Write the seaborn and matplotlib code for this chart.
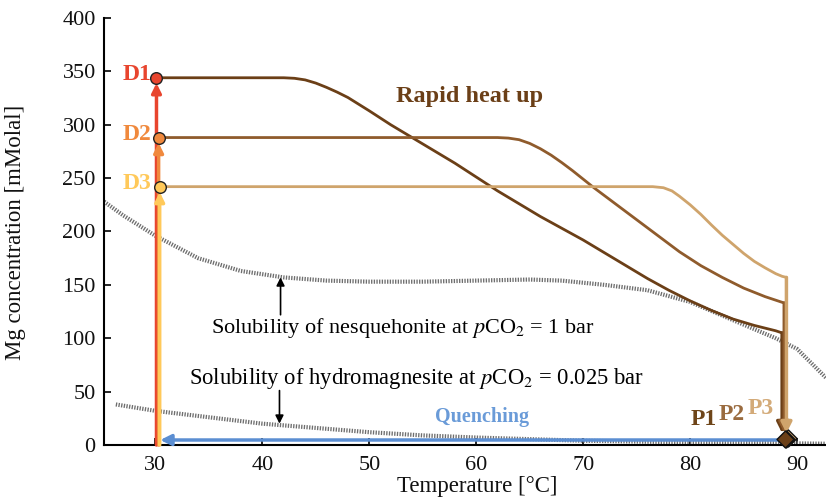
import matplotlib
matplotlib.use("Agg")
import matplotlib.pyplot as plt
import seaborn as sns

# ---------------- data ----------------
d1_T = [30.1, 40, 42, 43, 44, 45, 46, 47, 48, 50, 52, 54, 56, 58, 60, 62, 64, 66, 68, 70, 72, 74, 76, 78, 80, 82, 84, 86, 88, 88.6]
d1_C = [344, 344, 344, 343.5, 342, 339, 335, 330.5, 325.5, 313, 300, 288, 276, 264, 251, 238, 226, 214, 203, 192, 180, 168, 156, 145, 135, 126, 118, 112, 107, 105]

d2_T = [30.3, 50, 62, 63, 64, 65, 66, 67, 68, 69, 71, 73, 75, 77, 79, 81, 83, 85, 87, 88.8]
d2_C = [288, 288, 288, 287.5, 286, 282.5, 277.5, 271.5, 264.5, 257, 241, 226, 211, 196, 181, 168, 157, 147, 139, 133]

d3_T = [30.4, 60, 76.5, 77.5, 78.3, 79, 80, 81, 82, 83, 84, 85, 86, 87, 88, 88.6, 89.0]
d3_C = [242, 242, 242, 241, 238, 233, 225, 216, 206, 196.5, 188, 179.5, 172, 166, 160.5, 158, 157]

nesq_T = [25.2, 27, 30, 34, 38, 42, 46, 50, 55, 60, 65, 68, 72, 76, 80, 84, 88, 90, 92.7]
nesq_C = [228, 215, 196, 175, 163, 157, 154, 153, 153, 154, 155, 154, 150, 145, 134, 117, 100, 90, 63]

hydro_T = [26.3, 30, 35, 40, 45, 50, 55, 60, 70, 80, 90, 92.7]
hydro_C = [38, 32, 26, 20, 16, 12, 9, 7, 4, 2.5, 1.5, 1.2]

start_labels = ["D1", "D2", "D3"]
end_labels = ["P1", "P2", "P3"]
quench_C = 4.7
final_C = [5.5, 6.0, 6.5]
final_T = [88.85, 89.0, 89.15]
arrow_end_C = 11

x_ticks = [30, 40, 50, 60, 70, 80, 90]
y_ticks = [0, 50, 100, 150, 200, 250, 300, 350, 400]

# ---------------- style ----------------
sns.set_theme(style="ticks")
plt.rcParams["font.family"] = ["Liberation Serif", "DejaVu Serif"]
plt.rcParams["mathtext.fontset"] = "stix"

start_colors = ["#E8452E", "#F0893D", "#FFC95A"]
curve_colors = ["#6B3F17", "#8F5B2C", "#CFA46C"]
label_P_colors = ["#6E4519", "#9A6B3F", "#D3AA78"]
blue = "#5B8ED2"
gray = "#6E6E6E"

fig = plt.figure(figsize=(8.26, 4.98), dpi=100)
ax = fig.add_axes([0.126, 0.1064, 0.874, 0.8575])

# solubility curves
for T, C in [(nesq_T, nesq_C), (hydro_T, hydro_C)]:
    sns.lineplot(x=T, y=C, ax=ax, color=gray, lw=3.0, sort=False,
                 linestyle=(0, (0.32, 0.32)), zorder=2)

# heat up curves
curves = [(d1_T, d1_C), (d2_T, d2_C), (d3_T, d3_C)]
for i, (T, C) in enumerate(curves):
    sns.lineplot(x=T, y=C, ax=ax, color=curve_colors[i], lw=2, sort=False, zorder=3)

# vertical quench drop at end of each curve
for i in [0, 1, 2]:
    T, C = curves[i]
    ax.annotate("", xy=(T[-1], arrow_end_C), xytext=(T[-1], C[-1]),
                arrowprops=dict(arrowstyle="-|>", color=curve_colors[i], lw=2.5,
                                mutation_scale=16, shrinkA=0, shrinkB=0), zorder=4)

# blue quench arrow
ax.annotate("", xy=(30.45, quench_C), xytext=(d1_T[-1], quench_C),
            arrowprops=dict(arrowstyle="-|>", color=blue, lw=2.5,
                            mutation_scale=16, shrinkA=0, shrinkB=0), zorder=4)

# rising arrows at 30 °C
for i in [0, 1, 2]:
    T, C = curves[i]
    ax.annotate("", xy=(T[0], C[0] - 5), xytext=(T[0], 0),
                arrowprops=dict(arrowstyle="-|>", color=start_colors[i], lw=2.5,
                                mutation_scale=14, shrinkA=0, shrinkB=0), zorder=5)

# start markers
for i in range(3):
    T, C = curves[i]
    ax.scatter([T[0]], [C[0]], s=70, color=start_colors[i], edgecolor="#222222",
               linewidth=1, zorder=7, clip_on=False)
    ax.text(29.6, C[0] + 3, start_labels[i], color=start_colors[i], fontsize=17,
            fontweight="bold", ha="right", va="center", zorder=7)

# final markers
for i in [2, 1, 0]:
    ax.scatter([final_T[i]], [final_C[i]], marker="D", s=75, color=curve_colors[i],
               edgecolor="#111111", linewidth=1, zorder=8, clip_on=False)

# P labels
P_pos = [(81.3, 24), (83.9, 29), (86.6, 34)]
for i in range(3):
    ax.text(P_pos[i][0], P_pos[i][1], end_labels[i], color=label_P_colors[i],
            fontsize=17, fontweight="bold", ha="center", va="center", zorder=7)

ax.text(59.4, 326, "Rapid heat up", color="#6B3F17", fontsize=17.5,
        fontweight="bold", ha="center", va="center")
ax.text(60.5, 26, "Quenching", color="#6A9BD8", fontsize=14.5,
        fontweight="bold", ha="center", va="center")

ax.text(53.1, 109.5, r"Solubility of nesquehonite at $\it{p}$CO$_2$ = 1 bar",
        fontsize=16, ha="center", va="center", color="black")
ax.annotate("", xy=(41.7, 157), xytext=(41.7, 122),
            arrowprops=dict(arrowstyle="-|>", color="black", lw=1.2,
                            mutation_scale=12, shrinkA=0, shrinkB=0))
ax.text(54.4, 62.7, r"Solubility of hydromagnesite at $\it{p}$CO$_2$ = 0.025 bar",
        fontsize=16.3, ha="center", va="center", color="black")
ax.annotate("", xy=(41.6, 20), xytext=(41.6, 51),
            arrowprops=dict(arrowstyle="-|>", color="black", lw=1.2,
                            mutation_scale=12, shrinkA=0, shrinkB=0))

# axes
ax.set_xlim(25.2, 92.7)
ax.set_ylim(0, 400)
ax.set_xticks(x_ticks)
ax.set_yticks(y_ticks)
ax.tick_params(direction="in", length=5, width=1.2, labelsize=16, colors="black")
ax.tick_params(axis="x", pad=8)
ax.tick_params(axis="y", pad=6)
for lab in ax.get_xticklabels() + ax.get_yticklabels():
    lab.set_color("#111111")
sns.despine(ax=ax, top=True, right=True)
ax.spines["left"].set_linewidth(1.5)
ax.spines["bottom"].set_linewidth(1.5)
ax.spines["left"].set_color("black")
ax.spines["bottom"].set_color("black")
ax.set_xlabel("Temperature [°C]", fontsize=16.5, color="#111111")
ax.set_ylabel("Mg concentration [mMolal]", fontsize=16.5, color="#111111")
ax.xaxis.set_label_coords(0.517, -0.072)
ax.yaxis.set_label_coords(-0.108, 0.499)

fig.savefig("out.png", dpi=100)
